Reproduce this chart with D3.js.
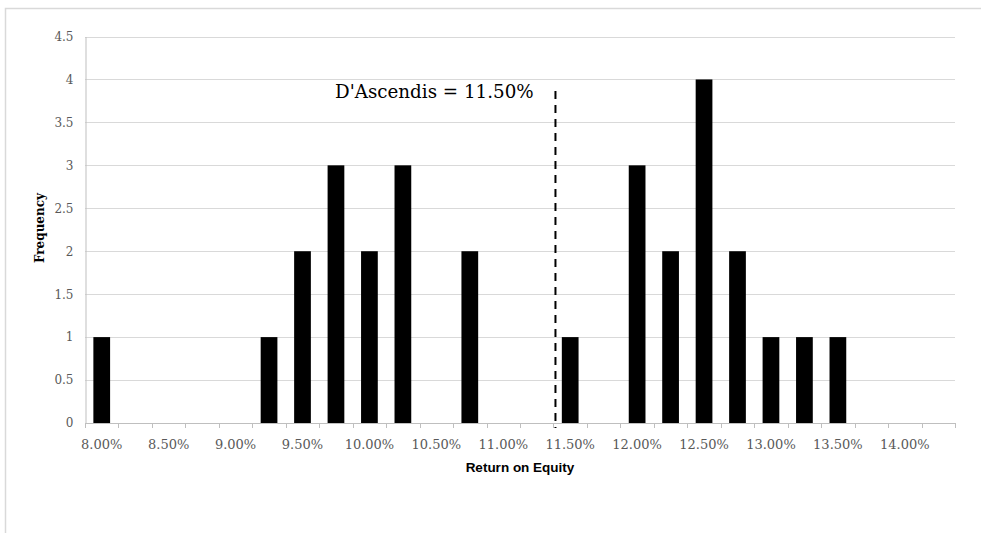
<!DOCTYPE html>
<html><head><meta charset="utf-8">
<script src="https://cdn.jsdelivr.net/npm/d3@7"></script>
<style>html,body{margin:0;padding:0;background:#fff;}</style>
</head><body>
<svg id="chart" width="981" height="533"></svg>
<script>
const categories = ["8.00%","8.25%","8.50%","8.75%","9.00%","9.25%","9.50%","9.75%","10.00%","10.25%","10.50%","10.75%","11.00%","11.25%","11.50%","11.75%","12.00%","12.25%","12.50%","12.75%","13.00%","13.25%","13.50%","13.75%","14.00%","14.25%"];
const frequency = [1,0,0,0,0,1,2,3,2,3,0,2,0,0,1,0,3,2,4,2,1,1,1,0,0,0];
const xTickLabels = ["8.00%","8.50%","9.00%","9.50%","10.00%","10.50%","11.00%","11.50%","12.00%","12.50%","13.00%","13.50%","14.00%"];
const yTicks = [0,0.5,1,1.5,2,2.5,3,3.5,4,4.5];
const markerCategory = "11.50%";
const markerLabel = "D'Ascendis = 11.50%";
const xTitle = "Return on Equity";
const yTitle = "Frequency";

const svg = d3.select("#chart");
const L = 85, R = 955, T = 36.5, B = 423;

// outer frame (chart area border)
svg.append("rect").attr("x",5.5).attr("y",8.5).attr("width",1000).attr("height",600)
  .attr("fill","#fff").attr("stroke","#d9d9d9").attr("stroke-width",1.5);

const x = d3.scaleBand().domain(categories).range([L,R]).paddingInner(0.5).paddingOuter(0.25);
const xb = d3.scaleBand().domain(categories).range([L,R]);
const y = d3.scaleLinear().domain([0,4.5]).range([B,T]);

// gridlines
svg.append("g").selectAll("line").data(yTicks.filter(d=>d>0)).join("line")
  .attr("x1",L).attr("x2",R).attr("y1",d=>Math.round(y(d))+0.5).attr("y2",d=>Math.round(y(d))+0.5)
  .attr("stroke","#d9d9d9").attr("stroke-width",1);

// bars
svg.append("g").selectAll("rect").data(categories.map((c,i)=>({c,v:frequency[i]})).filter(d=>d.v>0)).join("rect")
  .attr("x",d=>x(d.c)).attr("width",x.bandwidth())
  .attr("y",d=>y(d.v)).attr("height",d=>B-y(d.v)).attr("fill","#000");

// y axis
const yAxis = d3.axisLeft(y).tickValues(yTicks).tickSize(0).tickPadding(12).tickFormat(d=>d3.format("")(d));
const gy = svg.append("g").attr("transform",`translate(${L+0.5},0)`).call(yAxis);
gy.select(".domain").attr("stroke","#bfbfbf").attr("stroke-width",1);
gy.selectAll("text").attr("font-family","DejaVu Serif").attr("font-size",12).attr("fill","#595959");

// x axis line and ticks at category boundaries
const gx = svg.append("g");
gx.append("line").attr("x1",L).attr("x2",R).attr("y1",B+0.5).attr("y2",B+0.5).attr("stroke","#bfbfbf").attr("stroke-width",1.2);
const boundaries = categories.map(c=>xb(c)).concat([xb(categories[categories.length-1])+xb.bandwidth()]);
gx.selectAll("line.tk").data(boundaries).join("line").attr("class","tk")
  .attr("x1",d=>Math.round(d)+0.5).attr("x2",d=>Math.round(d)+0.5).attr("y1",B).attr("y2",B+5)
  .attr("stroke","#bfbfbf").attr("stroke-width",1);
gx.selectAll("text").data(xTickLabels).join("text")
  .attr("x",d=>xb(d)+xb.bandwidth()/2).attr("y",B+26)
  .attr("text-anchor","middle").attr("font-family","DejaVu Serif").attr("font-size",13).attr("fill","#595959")
  .text(d=>d);

// axis titles
svg.append("text").attr("x",(L+R)/2).attr("y",472).attr("text-anchor","middle")
  .attr("font-family","Liberation Sans").attr("font-weight","bold").attr("font-size",13.5).attr("fill","#000")
  .text(xTitle);
svg.append("text").attr("transform",`translate(44,228) rotate(-90)`).attr("text-anchor","middle")
  .attr("font-family","DejaVu Serif").attr("font-weight","bold").attr("font-size",12).attr("fill","#000")
  .text(yTitle);

// marker dashed line
const mx = xb(markerCategory) + 2;
svg.append("line").attr("x1",mx).attr("x2",mx).attr("y1",91).attr("y2",428)
  .attr("stroke","#000").attr("stroke-width",2).attr("stroke-dasharray","8,6");
svg.append("text").attr("x",335).attr("y",97.5)
  .attr("font-family","DejaVu Serif").attr("font-size",18.3).attr("fill","#000")
  .text(markerLabel);
</script>
</body></html>
